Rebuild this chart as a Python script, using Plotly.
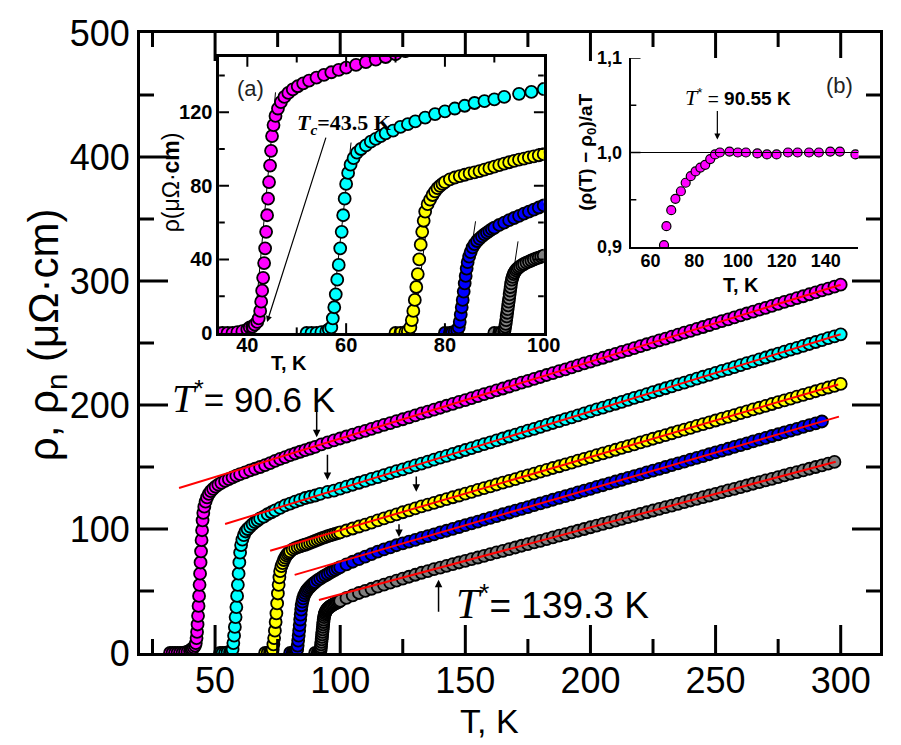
import plotly.graph_objects as go

# ---------------- data ----------------
# common temperature grid of the high-temperature (linear) part, K
T_LIN = [100, 102.5, 105, 107.5, 110, 112.5, 115, 117.5, 120, 122.5,
         125, 127.5, 130, 132.5, 135, 137.5, 140, 142.5, 145, 147.5,
         150, 152.5, 155, 157.5, 160, 162.5, 165, 167.5, 170, 172.5,
         175, 177.5, 180, 182.5, 185, 187.5, 190, 192.5, 195, 197.5,
         200, 202.5, 205, 207.5, 210, 212.5, 215, 217.5, 220, 222.5,
         225, 227.5, 230, 232.5, 235, 237.5, 240, 242.5, 245, 247.5,
         250, 252.5, 255, 257.5, 260, 262.5, 265, 267.5, 270, 272.5,
         275, 277.5, 280, 282.5, 285, 287.5, 290, 292.5, 295, 297.5,
         300]

# sample 1 (magenta)
T1_LO = [32, 33, 34, 35, 36, 37, 38, 39, 40, 40.5, 41, 41.5, 42,
         42.3, 42.6, 42.8, 43.0, 43.2, 43.4, 43.6, 43.8, 44.0, 44.2, 44.4,
         44.6, 44.8, 45.0, 45.3, 45.7, 46.2, 46.8, 47.5, 48.3, 49.2, 50.2,
         51.3, 52.5, 54, 55.5, 57, 58.5, 60, 62, 64, 66, 68, 70, 72, 74,
         76, 78, 80, 82, 84, 86, 88, 90, 92.5, 95, 97.5]
R1_LO = [0, 0, 0, 0, 0, 0, 0.5, 1, 2, 3, 3.5, 4.5, 6,
         8, 12, 17, 23, 30, 38, 46, 55, 64, 73, 82,
         91, 99, 107, 113, 118, 122, 125.5, 128.3, 130.5, 132.4, 134.1,
         135.7, 137.2, 138.8, 140.3, 141.7, 143, 144.2, 145.7, 147.2, 148.6,
         150, 151.5, 153.2, 154.9, 156.5, 158, 159.5, 160.9, 162.3, 163.6,
         164.9, 166.3, 168.3, 169.9, 171.4]
R1_HI = [173.0, 174.6, 176.1, 177.7, 179.2, 180.8, 182.3, 183.9, 185.4, 187.0,
         188.5, 190.1, 191.6, 193.2, 194.7, 196.3, 197.8, 199.4, 200.9, 202.5,
         204.0, 205.6, 207.1, 208.7, 210.2, 211.8, 213.3, 214.9, 216.4, 218.0,
         219.5, 221.1, 222.6, 224.2, 225.7, 227.3, 228.8, 230.4, 231.9, 233.5,
         235.0, 236.6, 238.1, 239.7, 241.2, 242.8, 244.3, 245.9, 247.4, 249.0,
         250.5, 252.1, 253.6, 255.2, 256.7, 258.3, 259.8, 261.4, 262.9, 264.5,
         266.0, 267.6, 269.1, 270.7, 272.2, 273.8, 275.3, 276.9, 278.4, 280.0,
         281.5, 283.1, 284.6, 286.2, 287.7, 289.3, 290.8, 292.4, 293.9, 295.5,
         297.0]

# sample 2 (cyan)
T2_LO = [52, 53, 54, 55, 56, 56.5, 57.0, 57.3, 57.6, 57.9, 58.2, 58.5, 58.8,
         59.1, 59.4, 59.7, 60.0, 60.4, 60.9, 61.5, 62.2, 63, 64, 65, 66, 67,
         68, 69.5, 71, 72.5, 74, 76, 78, 80, 82, 84, 86, 88, 90, 92, 95, 97.5]
R2_LO = [0, 0, 0, 0.5, 1, 2, 3, 8, 14, 21, 29, 37, 46,
         55, 64, 73, 81, 87, 91.5, 95, 98, 100, 102, 104, 105.5, 107,
         108.5, 110, 112, 113.5, 115, 117, 119, 120.5, 122, 123.5, 125, 126,
         127, 128.3, 130, 131.0]
R2_HI = [132.6, 134.2, 135.7, 137.3, 138.8, 140.4, 141.9, 143.5, 145.0, 146.6,
         148.1, 149.7, 151.3, 152.8, 154.4, 155.9, 157.5, 159.0, 160.6, 162.1,
         163.7, 165.3, 166.8, 168.4, 169.9, 171.5, 173.0, 174.6, 176.1, 177.7,
         179.3, 180.8, 182.4, 183.9, 185.5, 187.0, 188.6, 190.1, 191.7, 193.2,
         194.8, 196.4, 197.9, 199.5, 201.0, 202.6, 204.1, 205.7, 207.2, 208.8,
         210.4, 211.9, 213.5, 215.0, 216.6, 218.1, 219.7, 221.2, 222.8, 224.3,
         225.9, 227.5, 229.0, 230.6, 232.1, 233.7, 235.2, 236.8, 238.3, 239.9,
         241.5, 243.0, 244.6, 246.1, 247.7, 249.2, 250.8, 252.3, 253.9, 255.4,
         257.0]

# sample 3 (yellow)
T3_LO = [70, 71, 72, 72.5, 73.0, 73.3, 73.6, 73.9, 74.2, 74.5, 74.8, 75.1,
         75.4, 75.7, 76.0, 76.5, 77, 77.5, 78, 78.5, 79, 79.5, 80, 81, 82, 83,
         84, 85, 86, 87, 88, 89, 90, 91, 92, 93, 94, 95, 96, 97, 98, 99]
R3_LO = [0, 0, 0.5, 1, 3, 7, 12, 18, 25, 32, 40, 48,
         55, 61, 66, 70, 72.5, 75, 77, 78.7, 80, 81, 82, 83.5, 84.5, 85.3,
         86, 86.7, 87.3, 88, 88.8, 89.6, 90.4, 91.2, 92, 92.8, 93.5, 94.2,
         94.8, 95.4, 96, 96.6]
R3_HI = [97.2, 98.8, 100.4, 102.0, 103.6, 105.2, 106.9, 108.5, 110.2, 111.8,
         113.5, 115.1, 116.7, 118.2, 119.7, 121.1, 122.6, 124.1, 125.6, 127.0,
         128.5, 130.0, 131.5, 132.9, 134.4, 135.9, 137.4, 138.8, 140.3, 141.8,
         143.3, 144.7, 146.2, 147.7, 149.2, 150.6, 152.1, 153.6, 155.1, 156.5,
         158.0, 159.5, 161.0, 162.4, 163.9, 165.4, 166.9, 168.3, 169.8, 171.3,
         172.8, 174.2, 175.7, 177.2, 178.7, 180.1, 181.6, 183.1, 184.6, 186.0,
         187.5, 189.0, 190.5, 191.9, 193.4, 194.9, 196.4, 197.8, 199.3, 200.8,
         202.3, 203.7, 205.2, 206.7, 208.2, 209.6, 211.1, 212.6, 214.1, 215.5,
         217.0]

# sample 4 (blue)
T4_LO = [80, 81, 81.5, 82, 82.5, 82.8, 83.0, 83.2, 83.4, 83.6, 83.8, 84.0,
         84.2, 84.4, 84.6, 84.9, 85.2, 85.6, 86.0, 86.5, 87, 87.5, 88, 88.5,
         89, 89.5, 90, 91, 92, 93, 94, 95, 96, 97, 98, 99]
R4_LO = [0, 0, 0.3, 0.8, 1.5, 3, 6, 10, 14, 18, 22.5, 27,
         31, 35, 38.5, 41.5, 44, 46.5, 48.3, 50, 51.3, 52.5, 53.6, 54.6,
         55.5, 56.4, 57.2, 58.7, 60, 61.3, 62.5, 63.7, 64.9, 66, 67.1, 68.2]
R4_HI = [69.3, 71.5, 73.6, 75.7, 77.8, 79.7, 81.7, 83.6, 85.2, 86.9,
         88.4, 89.8, 91.3, 92.8, 94.2, 95.7, 97.2, 98.6, 100.1, 101.6,
         103.1, 104.5, 106.0, 107.5, 108.9, 110.4, 111.9, 113.3, 114.8, 116.3,
         117.7, 119.2, 120.7, 122.1, 123.6, 125.1, 126.5, 128.0, 129.5, 130.9,
         132.4, 133.9, 135.3, 136.8, 138.3, 139.7, 141.2, 142.7, 144.1, 145.6,
         147.1, 148.5, 150.0, 151.5, 152.9, 154.4, 155.9, 157.3, 158.8, 160.3,
         161.8, 163.2, 164.7, 166.2, 167.6, 169.1, 170.6, 172.0, 173.5, 175.0,
         176.4, 177.9, 179.4, 180.8, 182.3, 183.8, 185.2, 186.7]

# sample 5 (grey)
T5_LO = [90, 91, 91.5, 92, 92.1, 92.2, 92.3, 92.4, 92.5, 92.6, 92.7, 92.8,
         92.9, 93.0, 93.1, 93.2, 93.3, 93.4, 93.55, 93.7, 93.9, 94.1, 94.35,
         94.6, 94.9, 95.2, 95.6, 96, 96.5, 97, 97.5, 98, 98.5, 99, 99.5]
R5_LO = [0, 0, 0.3, 1, 2, 3.5, 5, 7, 9, 11, 13, 15,
         17, 19, 21, 23, 25, 27, 29, 30.5, 32, 33, 34,
         34.8, 35.5, 36.2, 36.9, 37.5, 38.2, 38.8, 39.4, 40, 40.5, 41, 41.5]
R5_HI = [42.0, 44.4, 46.5, 48.4, 50.1, 51.8, 53.5, 55.1, 56.7, 58.3,
         59.9, 61.5, 63.1, 64.7, 66.1, 67.6, 68.9, 70.3, 71.6, 73.0,
         74.3, 75.7, 77.0, 78.4, 79.7, 81.1, 82.4, 83.8, 85.1, 86.5,
         87.8, 89.2, 90.5, 91.9, 93.2, 94.6, 95.9, 97.3, 98.6, 100.0,
         101.4, 102.7, 104.1, 105.4, 106.8, 108.1, 109.5, 110.8, 112.2, 113.5,
         114.9, 116.2, 117.6, 118.9, 120.3, 121.6, 123.0, 124.3, 125.7, 127.0,
         128.4, 129.7, 131.1, 132.4, 133.8, 135.1, 136.5, 137.8, 139.2, 140.5,
         141.9, 143.2, 144.6, 145.9, 147.3, 148.6, 150.0, 151.3, 152.7, 154.1]

SERIES = [
    ("#FF00FF", T1_LO + T_LIN[:len(R1_HI)], R1_LO + R1_HI),
    ("#00FFFF", T2_LO + T_LIN[:len(R2_HI)], R2_LO + R2_HI),
    ("#FFFF00", T3_LO + T_LIN[:len(R3_HI)], R3_LO + R3_HI),
    ("#0000FF", T4_LO + T_LIN[:len(R4_HI)], R4_LO + R4_HI),
    ("#808080", T5_LO + T_LIN[:len(R5_HI)], R5_LO + R5_HI),
]

# linear fits (red): start/end temperature and resistivity
FIT_T0 = [35.6, 54.0, 72.0, 81.8, 91.5]
FIT_R0 = [133.0, 104.0, 82.5, 63.0, 42.7]
FIT_T1 = [300.0, 300.0, 299.0, 299.3, 298.0]
FIT_R1 = [297.0, 257.0, 216.5, 190.6, 154.3]

# T* arrows: temperature, arrow tip and tail resistivity
ARR_T = [90.6, 94.9, 130.4, 123.5, 139.3]
ARR_TIP = [174.0, 139.5, 130.0, 93.5, 59.0]
ARR_TAIL = [197.0, 161.0, 143.5, 105.0, 32.0]

# steep tangents through the transitions (inset a)
TAN_T0 = [41.2, 56.6, 73.4, 82.6, 91.8]
TAN_R0 = [-4, -4, -4, -4, -4]
TAN_T1 = [45.7, 61.0, 77.3, 86.2, 94.8]
TAN_R1 = [130.8, 103.5, 79.0, 60.7, 49.8]

# inset b: normalised resistivity of sample 1
TB = [66.2, 67.3, 69.5, 71.4, 73.9, 76.1, 78.4, 80.6, 82.8, 85.0, 87.3, 89.5,
      91.7, 96.1, 99.9, 103.6, 108.8, 113.2, 117.6, 122.8, 127.2, 132.4, 136.9,
      142.1, 146.5, 153.6]
RB = [0.902, 0.922, 0.939, 0.951, 0.959, 0.968, 0.975, 0.980, 0.984, 0.987,
      0.993, 0.998, 1.000, 1.001, 1.000, 1.000, 0.999, 0.998, 0.998, 1.000,
      1.000, 1.000, 1.000, 1.001, 1.001, 0.998]
TSTAR_B = 90.55

# tick positions
MAIN_XT = [50, 100, 150, 200, 250, 300]
MAIN_XT_MINOR = [25, 75, 125, 175, 225, 275]
MAIN_YT = [0, 100, 200, 300, 400, 500]
MAIN_YT_MINOR = [50, 150, 250, 350, 450]
A_XT = [40, 60, 80, 100]
A_XT_MINOR = [50, 70, 90]
A_YT = [0, 40, 80, 120]
A_YT_MINOR = [20, 60, 100, 140]
B_XT = [60, 80, 100, 120, 140]
B_YT = [0.9, 1.0, 1.1]
B_YT_TEXT = ["0,9", "1,0", "1,1"]
B_YT_MINOR = [0.95, 1.05]

# ---------------- layout helpers ----------------
W, H = 901, 745
ML, MR, MT, MB = 140, 4, 33, 92
PW, PH = W - ML - MR, H - MT - MB


def fx(px):
    return (px - ML) / PW


def fy(py):
    return (H - MB - py) / PH


SANS = "Liberation Sans, Arial, sans-serif"
SERIF = "Liberation Serif, Times New Roman, serif"

# axis ranges and pixel boxes (left, right, top, bottom) of the three panels
PANELS = {
    "main": dict(xa="x", ya="y", xr=[20, 20 + PW / 2.56], yr=[0, 500],
                 box=(ML, W - MR, MT, H - MB)),
    "a": dict(xa="x2", ya="y2", xr=[34.3, 100], yr=[0, 150], box=(221, 553, 57, 333)),
    "b": dict(xa="x3", ya="y3", xr=[51, 155], yr=[0.9, 1.1], box=(642, 875, 58, 247)),
}

fig = go.Figure()

# main panel: data, fits
for color, t, r in SERIES:
    fig.add_trace(go.Scatter(x=t, y=r, mode="markers", xaxis="x", yaxis="y",
                             marker=dict(symbol="circle", size=12, color=color,
                                         line=dict(color="black", width=1.8)),
                             showlegend=False, hoverinfo="skip"))
for i in range(5):
    fig.add_trace(go.Scatter(x=[FIT_T0[i], FIT_T1[i]], y=[FIT_R0[i], FIT_R1[i]],
                             mode="lines", xaxis="x", yaxis="y",
                             line=dict(color="#FF0000", width=2),
                             showlegend=False, hoverinfo="skip"))

# inset a: tangents then data
for i in range(5):
    fig.add_trace(go.Scatter(x=[TAN_T0[i], TAN_T1[i]], y=[TAN_R0[i], TAN_R1[i]],
                             mode="lines", xaxis="x2", yaxis="y2",
                             line=dict(color="black", width=1),
                             showlegend=False, hoverinfo="skip"))
for color, t, r in SERIES:
    fig.add_trace(go.Scatter(x=t, y=r, mode="markers", xaxis="x2", yaxis="y2",
                             marker=dict(symbol="circle", size=12, color=color,
                                         line=dict(color="black", width=1.8)),
                             showlegend=False, hoverinfo="skip"))

# inset b
fig.add_trace(go.Scatter(x=TB, y=RB, mode="markers", xaxis="x3", yaxis="y3",
                         marker=dict(symbol="circle", size=9, color="#FF00FF",
                                     line=dict(color="black", width=1.2)),
                         showlegend=False, hoverinfo="skip"))
fig.add_trace(go.Scatter(x=PANELS["b"]["xr"], y=[1.0, 1.0], mode="lines",
                         xaxis="x3", yaxis="y3", line=dict(color="black", width=1),
                         showlegend=False, hoverinfo="skip"))


# tick marks pointing into the panels: line markers centred on the frame,
# the outer half is clipped away by the plot area
def tick_marks(panel, xvals, yvals, length, width, mirror=True):
    p = PANELS[panel]
    (x0, x1), (y0, y1) = p["xr"], p["yr"]
    groups = [([v for v in xvals], [y0] * len(xvals), "line-ns-open"),
              ([x0] * len(yvals), [v for v in yvals], "line-ew-open")]
    if mirror:
        groups += [([v for v in xvals], [y1] * len(xvals), "line-ns-open"),
                   ([x1] * len(yvals), [v for v in yvals], "line-ew-open")]
    for xs, ys, sym in groups:
        if not xs:
            continue
        fig.add_trace(go.Scatter(x=xs, y=ys, mode="markers", xaxis=p["xa"], yaxis=p["ya"],
                                 cliponaxis=True,
                                 marker=dict(symbol=sym, size=2 * length, color="black",
                                             line=dict(color="black", width=width)),
                                 showlegend=False, hoverinfo="skip"))


tick_marks("main", MAIN_XT, MAIN_YT[1:-1], 20, 3)
tick_marks("main", MAIN_XT_MINOR, MAIN_YT_MINOR, 10, 3)
tick_marks("a", A_XT[:-1], A_YT[1:], 7, 2)
tick_marks("a", A_XT_MINOR, A_YT_MINOR, 4, 2)
tick_marks("b", [], B_YT[1:], 7, 1.5, mirror=False)
tick_marks("b", [], B_YT_MINOR, 4, 1.5, mirror=False)


def axis(panel, which, lw, font_size, bold=False, mirror=True, **kw):
    p = PANELS[panel]
    d = dict(showline=True, linewidth=lw, linecolor="black",
             mirror=True if mirror else False, ticks="",
             range=p["xr"] if which == "x" else p["yr"],
             showgrid=False, zeroline=False,
             tickfont=dict(family=SANS, size=font_size, color="black",
                           weight="bold" if bold else "normal"))
    d.update(kw)
    return d


A_BOX, B_BOX = PANELS["a"]["box"], PANELS["b"]["box"]
fig.update_layout(
    width=W, height=H, margin=dict(l=ML, r=MR, t=MT, b=MB),
    paper_bgcolor="white", plot_bgcolor="white",
    xaxis=axis("main", "x", 3, 36, tickvals=MAIN_XT, ticklabelstandoff=-6),
    yaxis=axis("main", "y", 3, 36, tickvals=MAIN_YT, ticklabelstandoff=0),
    xaxis2=axis("a", "x", 2.5, 20, bold=True, domain=[fx(A_BOX[0]), fx(A_BOX[1])],
                anchor="y2", tickvals=A_XT, ticklabelstandoff=-8),
    yaxis2=axis("a", "y", 2.5, 20, bold=True, domain=[fy(A_BOX[3]), fy(A_BOX[2])],
                anchor="x2", tickvals=A_YT),
    xaxis3=axis("b", "x", 2, 18, bold=True, mirror=False,
                domain=[fx(B_BOX[0]), fx(B_BOX[1])], anchor="y3", tickvals=B_XT,
                ticklabelstandoff=-4),
    yaxis3=axis("b", "y", 2, 18, bold=True, mirror=False,
                domain=[fy(B_BOX[3]), fy(B_BOX[2])], anchor="x3",
                tickvals=B_YT, ticktext=B_YT_TEXT, ticklabelstandoff=3),
)

ann = []


def text(px, py, s, size, family=SANS, angle=0, color="black"):
    ann.append(dict(x=fx(px), y=fy(py), xref="paper", yref="paper", text=s,
                    showarrow=False, textangle=angle, xanchor="center", yanchor="middle",
                    font=dict(family=family, size=size, color=color)))


def ital_t(size):
    return ('<span style="font-family:Liberation Serif, Times New Roman, serif;'
            'font-size:%dpx"><i>T</i></span>' % size)


# axis titles
text(44, 335, "ρ, ρ<sub>n</sub> (μΩ·cm)", 42, angle=-90)
text(498, 721, "T, K", 34)
text(172, 182, "ρ(μΩ·<b>cm</b>)", 23, angle=-90)
text(292, 363, "<b>T, K</b>", 20)
text(597, 152, "<b>(ρ(T) − ρ<sub>0</sub>)/aT</b>", 19, angle=-90)
text(755, 285, "<b>T, K</b>", 20)

# panel labels
text(253, 88, "(a)", 22, color="#222222")
text(856, 86, "(b)", 22, color="#222222")

# T* labels
text(256, 398, ital_t(40) + "<sup>*</sup>= 90.6 K", 35)
text(562, 603, ital_t(42) + "<sup>*</sup>= 139.3 K", 37)
text(752, 97, ital_t(22) + "<sup>*</sup> = <b>90.55 K</b>", 19)
text(349, 124, "<b><i>T</i><sub><i>c</i></sub>=43.5 K</b>", 22, family=SERIF)

# T* arrows on the main panel
for i in range(5):
    ann.append(dict(x=ARR_T[i], y=ARR_TIP[i], ax=ARR_T[i], ay=ARR_TAIL[i],
                    xref="x", yref="y", axref="x", ayref="y", text="",
                    showarrow=True, arrowhead=2, arrowsize=1, arrowwidth=1.5,
                    arrowcolor="black"))

# Tc arrow in inset a
ann.append(dict(x=44.0, y=6.0, ax=56.0, ay=107.0, xref="x2", yref="y2",
                axref="x2", ayref="y2", text="", showarrow=True, arrowhead=2,
                arrowsize=1, arrowwidth=1.2, arrowcolor="black"))

# T* arrow in inset b
ann.append(dict(x=TSTAR_B, y=1.0138, ax=TSTAR_B, ay=1.0455, xref="x3", yref="y3",
                axref="x3", ayref="y3", text="", showarrow=True, arrowhead=2,
                arrowsize=1, arrowwidth=1.2, arrowcolor="black"))

fig.update_layout(annotations=ann)
fig.write_html("out.html")
